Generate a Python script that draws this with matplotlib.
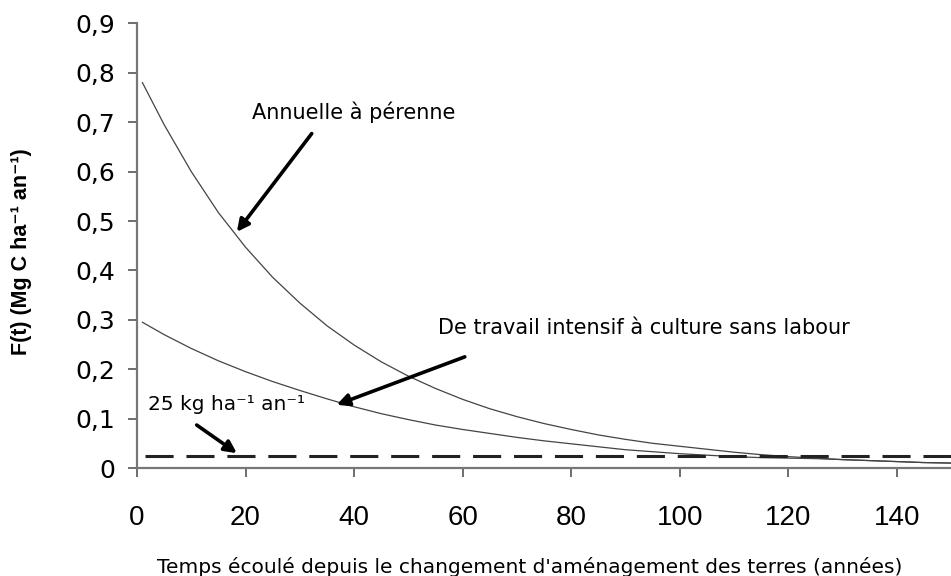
import matplotlib
matplotlib.use("Agg")
import matplotlib.pyplot as plt

plt.rcParams['font.family'] = ['DejaVu Sans']

# Data
years = [1, 5, 10, 15, 20, 25, 30, 35, 40, 45, 50, 55, 60, 65, 70, 75, 80, 85,
         90, 95, 100, 105, 110, 115, 120, 125, 130, 135, 140, 145, 150]
annual_to_perennial = [0.78, 0.695, 0.60, 0.517, 0.447, 0.386, 0.334, 0.288, 0.249,
                       0.215, 0.186, 0.161, 0.139, 0.120, 0.104, 0.090, 0.078,
                       0.067, 0.058, 0.050, 0.044, 0.038, 0.032, 0.027, 0.023,
                       0.020, 0.017, 0.015, 0.013, 0.011, 0.010]
tillage_to_notill = [0.295, 0.27, 0.242, 0.217, 0.195, 0.175, 0.157, 0.140, 0.124,
                     0.110, 0.098, 0.087, 0.078, 0.070, 0.062, 0.055, 0.049,
                     0.043, 0.037, 0.033, 0.029, 0.026, 0.023, 0.021, 0.020,
                     0.019, 0.017, 0.015, 0.013, 0.011, 0.010]
threshold = 0.025
x_ticks = [0, 20, 40, 60, 80, 100, 120, 140]
y_ticks = [0, 0.1, 0.2, 0.3, 0.4, 0.5, 0.6, 0.7, 0.8, 0.9]
y_ticklabels = ['0', '0,1', '0,2', '0,3', '0,4', '0,5', '0,6', '0,7', '0,8', '0,9']

fig = plt.figure(figsize=(9.51, 5.76), dpi=100)
ax = fig.add_axes([137/951, 108/576, 1 - 137/951, (468 - 23.4)/576])

ax.plot(years, annual_to_perennial, color='#444444', lw=0.9)
ax.plot(years, tillage_to_notill, color='#444444', lw=0.9)
ax.plot([1.5, 150], [threshold, threshold], color='#222222', lw=2.2,
        linestyle=(0, (9.2, 4.2)))

ax.set_xlim(0, 150)
ax.set_ylim(0, 0.9)
ax.set_xticks(x_ticks)
ax.set_xticklabels([str(v) for v in x_ticks], fontfamily='Liberation Sans', fontsize=20)
ax.set_yticks(y_ticks)
ax.set_yticklabels(y_ticklabels, fontfamily='DejaVu Sans', fontsize=18)

for s in ['top', 'right']:
    ax.spines[s].set_visible(False)
for s in ['left', 'bottom']:
    ax.spines[s].set_color('#777777')
    ax.spines[s].set_linewidth(1.6)

ax.tick_params(axis='both', colors='#555555', length=6.5, width=1.2,
               labelcolor='black')
ax.tick_params(axis='y', pad=9)
ax.tick_params(axis='x', pad=20)

fig.text(22/951, 1 - 252/576, 'F(t) (Mg C ha⁻¹ an⁻¹)',
         rotation=90, ha='center', va='center', fontsize=15.5, fontweight='bold',
         family=['Liberation Sans', 'DejaVu Sans'])

fig.text(0.557, 3/576, "Temps écoulé depuis le changement d'aménagement des terres (années)",
         ha='center', va='baseline', fontsize=14.5)

arrow = dict(arrowstyle='-|>', color='black', lw=2.6, mutation_scale=18,
             shrinkA=0, shrinkB=0)
ax.annotate('', xy=(18.4, 0.478), xytext=(32.2, 0.677), arrowprops=arrow)
ax.text(21.2, 0.721, 'Annuelle à pérenne', fontsize=15, va='center', ha='left')

ax.annotate('', xy=(36.8, 0.128), xytext=(60.4, 0.225), arrowprops=arrow)
ax.text(55.4, 0.283, 'De travail intensif à culture sans labour', fontsize=15,
        va='center', ha='left')

ax.annotate('', xy=(18.4, 0.030), xytext=(11.0, 0.087), arrowprops=arrow)
ax.text(2.0, 0.128, '25 kg ha⁻¹ an⁻¹', fontsize=14.5, va='center', ha='left')

fig.savefig('out.png', dpi=100)
